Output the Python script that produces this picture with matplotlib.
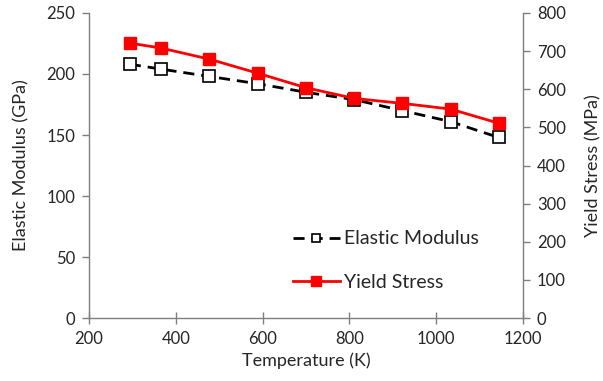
import matplotlib.pyplot as plt

plt.rcParams['font.family'] = ['Lato', 'DejaVu Sans']

temperature = [294, 366, 477, 589, 700, 811, 922, 1033, 1144]
elastic_modulus = [208, 204, 198, 192, 185, 179, 170, 161, 148]
yield_stress = [721, 708, 679, 642, 604, 576, 563, 548, 511]

axis_col = "#7f7f7f"
text_col = "#262626"

fig = plt.figure(figsize=(6.03, 3.81), dpi=100)
ax = fig.add_axes([0.1476, 0.165, 0.7197, 0.801])
ax2 = ax.twinx()

l1, = ax.plot(temperature, elastic_modulus, color="black", linestyle=(0, (4, 2.5)),
              linewidth=2, marker="s", markersize=8, markerfacecolor="white",
              markeredgecolor="black", markeredgewidth=1.2, label="Elastic Modulus")
l2, = ax2.plot(temperature, yield_stress, color="red", linewidth=2, marker="s",
               markersize=9, markerfacecolor="red", markeredgecolor="red",
               label="Yield Stress")

ax.set_xlim(200, 1200)
ax.set_ylim(0, 250)
ax2.set_ylim(0, 800)
ax.set_xticks(range(200, 1201, 200))
ax.set_yticks(range(0, 251, 50))
ax2.set_yticks(range(0, 801, 100))

ax.set_xlabel("Temperature (K)", fontsize=13, color=text_col, labelpad=4)
ax.set_ylabel("Elastic Modulus (GPa)", fontsize=13, color=text_col, labelpad=12)
ax2.set_ylabel("Yield Stress (MPa)", fontsize=13, color=text_col, labelpad=14)

for a in (ax, ax2):
    a.spines["top"].set_visible(False)
    for s in ("left", "right", "bottom"):
        a.spines[s].set_color(axis_col)
        a.spines[s].set_linewidth(1)
    a.tick_params(colors=axis_col, labelcolor=text_col, labelsize=12, length=5, width=1, pad=5)
ax.tick_params(axis="x", direction="inout", length=8)
ax.spines["right"].set_visible(False)
ax2.spines["left"].set_visible(False)
ax2.spines["bottom"].set_visible(False)

ax2.legend([l1, l2], ["Elastic Modulus", "Yield Stress"], loc="upper left",
           bbox_to_anchor=(0.43, 0.345), frameon=False, fontsize=14,
           handlelength=2.4, handletextpad=0.2, labelspacing=1.35,
           markerscale=0.8, labelcolor=text_col)

fig.savefig("out.png", dpi=100)
